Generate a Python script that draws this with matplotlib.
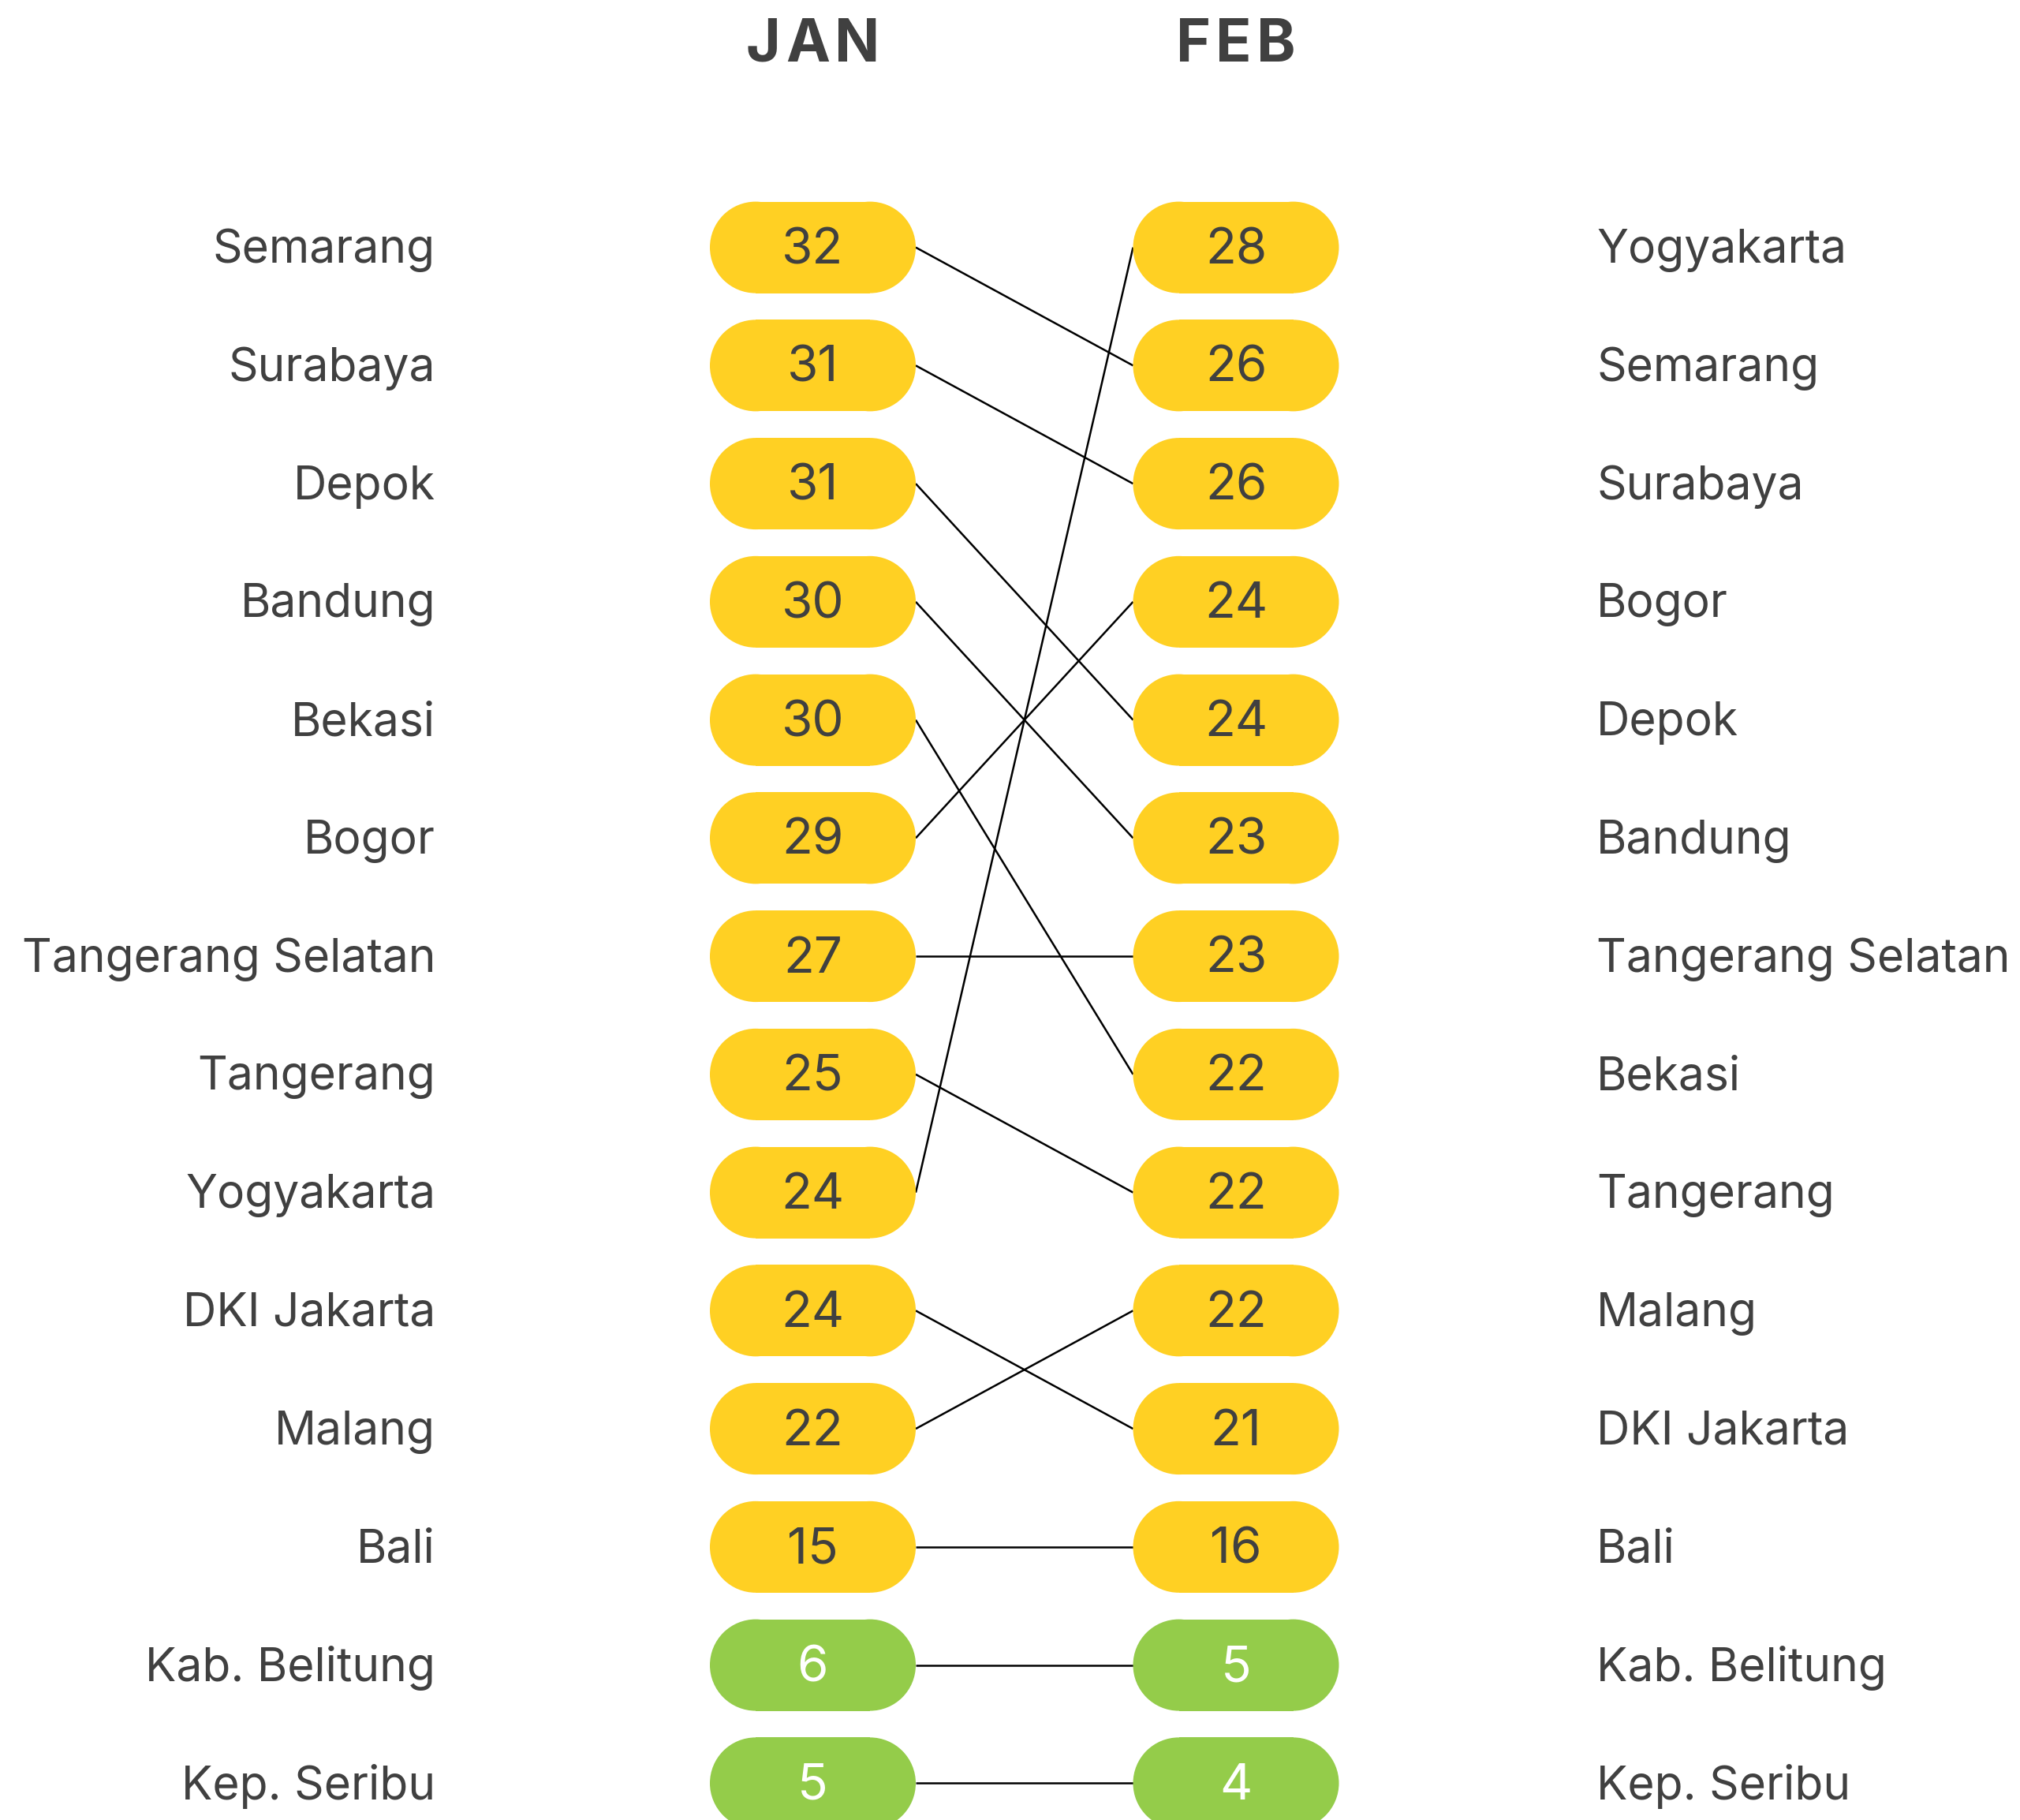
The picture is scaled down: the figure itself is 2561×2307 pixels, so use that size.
import matplotlib
matplotlib.use("Agg")
import matplotlib.pyplot as plt
from matplotlib.patches import Rectangle, Circle

plt.rcParams['font.family'] = ['Inter', 'DejaVu Sans']

months = ["JAN", "FEB"]
jan_cities = ["Semarang", "Surabaya", "Depok", "Bandung", "Bekasi", "Bogor",
              "Tangerang Selatan", "Tangerang", "Yogyakarta", "DKI Jakarta",
              "Malang", "Bali", "Kab. Belitung", "Kep. Seribu"]
jan_values = [32, 31, 31, 30, 30, 29, 27, 25, 24, 24, 22, 15, 6, 5]
feb_cities = ["Yogyakarta", "Semarang", "Surabaya", "Bogor", "Depok", "Bandung",
              "Tangerang Selatan", "Bekasi", "Tangerang", "Malang", "DKI Jakarta",
              "Bali", "Kab. Belitung", "Kep. Seribu"]
feb_values = [28, 26, 26, 24, 24, 23, 23, 22, 22, 22, 21, 16, 5, 4]

W, H = 2561, 2307
DPI = 100
fig = plt.figure(figsize=(W / DPI, H / DPI), dpi=DPI)
ax = fig.add_axes([0, 0, 1, 1])
ax.set_xlim(0, W)
ax.set_ylim(H, 0)
ax.axis('off')

YELLOW = '#FFD023'
GREEN = '#94CC4A'
TXT = '#404040'

col_x = [1030.5, 1567]
pill_w, pill_h = 261, 116
y0, dy = 313.6, 149.75
left_label_x = 552
right_label_x = 2024
label_fs = 42.3
num_fs = 46

def row_y(i):
    return y0 + i * dy

def pill(cx, cy, val):
    color = GREEN if val < 10 else YELLOW
    tcol = 'white' if val < 10 else TXT
    r = pill_h / 2
    ax.add_patch(Rectangle((cx - pill_w / 2 + r, cy - r), pill_w - 2 * r, pill_h,
                           fc=color, ec='none', lw=0, zorder=3))
    ax.add_patch(Circle((cx - pill_w / 2 + r, cy), r, fc=color, ec='none', lw=0, zorder=3))
    ax.add_patch(Circle((cx + pill_w / 2 - r, cy), r, fc=color, ec='none', lw=0, zorder=3))
    ax.text(cx, cy + 4, str(val), ha='center', va='center', fontsize=num_fs,
            color=tcol, zorder=4)

# connecting lines
for i, city in enumerate(jan_cities):
    j = feb_cities.index(city)
    ax.plot([col_x[0] + pill_w / 2, col_x[1] - pill_w / 2], [row_y(i), row_y(j)],
            color='black', lw=1.8, zorder=2, solid_capstyle='butt')

for i, (c, v) in enumerate(zip(jan_cities, jan_values)):
    pill(col_x[0], row_y(i), v)
    ax.text(left_label_x, row_y(i) + 4, c, ha='right', va='center', fontsize=label_fs, color=TXT)
for i, (c, v) in enumerate(zip(feb_cities, feb_values)):
    pill(col_x[1], row_y(i), v)
    ax.text(right_label_x, row_y(i) + 4, c, ha='left', va='center', fontsize=label_fs, color=TXT)

# headers with letter spacing
renderer = fig.canvas.get_renderer()
track = 6
hfs = 54
for m, cx in zip(months, col_x):
    widths = []
    for ch in m:
        t = ax.text(0, 0, ch, fontsize=hfs, fontweight='bold')
        bb = t.get_window_extent(renderer=renderer)
        widths.append(bb.width)
        t.remove()
    total = sum(widths) + track * (len(m) - 1)
    x = cx - total / 2
    for ch, w in zip(m, widths):
        ax.text(x, 58, ch, ha='left', va='center', fontsize=hfs, fontweight='bold', color=TXT)
        x += w + track

fig.savefig('out.png', dpi=DPI)
